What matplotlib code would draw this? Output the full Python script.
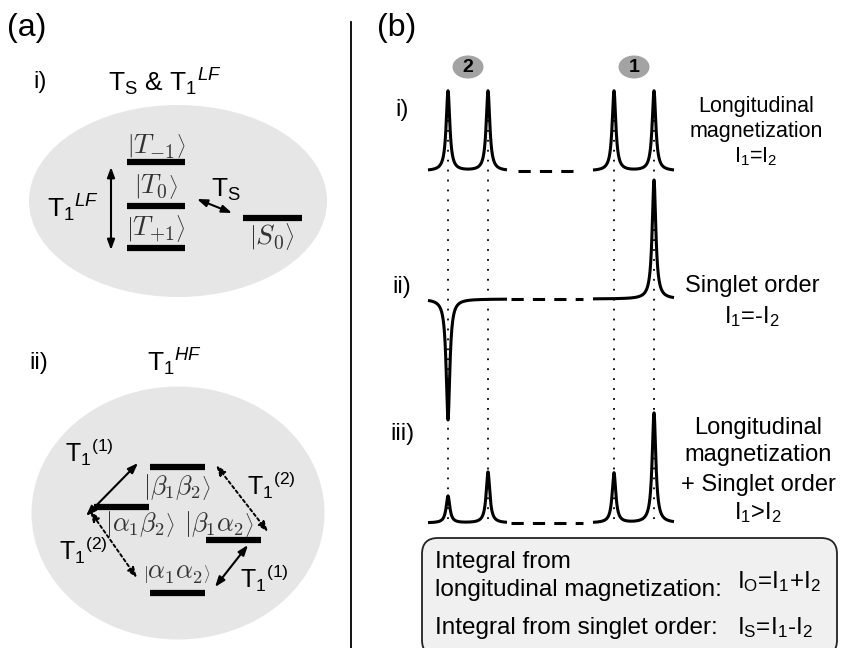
import numpy as np
import matplotlib.pyplot as plt
from matplotlib.patches import Ellipse, FancyBboxPatch

plt.rcParams['font.family'] = ['Liberation Sans', 'DejaVu Sans']
plt.rcParams['mathtext.fontset'] = 'custom'
plt.rcParams['mathtext.rm'] = 'Liberation Sans'
plt.rcParams['mathtext.it'] = 'Liberation Sans:italic'
plt.rcParams['mathtext.bf'] = 'Liberation Sans:bold'

# spectra: peak positions and amplitudes (pixel units of the sketch)
peak_pos = [448, 488, 614, 654]
baselines = [171, 299, 523]
amp_i = [80, 80, 80, 80]
amp_ii = [-121, 0, 0, 119]
amp_iii = [27, 51, 50, 110]
amps = [amp_i, amp_ii, amp_iii]
seg_left = (428, 507)
seg_right = (593, 674)
dash_seg = [(518, 578), (511, 583), (511, 583)]
row_labels = ['i)', 'ii)', 'iii)']
row_label_y = [110, 287, 434]
gamma = 2.2

# row descriptions: (text, y baseline, fontsize)
row_text = [
    [('Longitudinal', 112, 15.5), ('magnetization', 137, 15.5), (r'I$_1$=I$_2$', 162, 15.5)],
    [('Singlet order', 292, 17), (r'I$_1$=-I$_2$', 323, 17)],
    [('Longitudinal', 434, 17), ('magnetization', 461, 17),
     ('+ Singlet order', 491, 17), (r'I$_1$>I$_2$', 519, 17)],
]
row_text_x = [756, 752, 758]

# energy levels panel (a) i
levels_i = {'T-1': (127, 185, 162), 'T0': (127, 185, 206),
            'T+1': (127, 185, 248), 'S0': (243, 302, 218)}
kets_i = [(r'$\left|T_{-1}\right\rangle$', 156, 146), (r'$\left|T_0\right\rangle$', 156, 187),
          (r'$\left|T_{+1}\right\rangle$', 156, 229), (r'$\left|S_0\right\rangle$', 272, 237)]

# energy levels panel (a) ii
levels_ii = {'bb': (150, 205, 467), 'ab': (94, 149, 507),
             'ba': (206, 261, 540), 'aa': (150, 205, 593)}
kets_ii = [(r'$\left|\beta_1\beta_2\right\rangle$', 177, 487),
           (r'$\left|\alpha_1\beta_2\right\rangle$', 140, 524),
           (r'$\left|\beta_1\alpha_2\right\rangle$', 219, 524),
           (r'$\left|\alpha_1\alpha_2\right\rangle$', 177, 573)]


def lorentz(x, x0, a):
    return a * gamma**2 / ((x - x0)**2 + gamma**2)


fig = plt.figure(figsize=(8.42, 6.48), dpi=100)
ax = fig.add_axes([0, 0, 1, 1])
ax.set_xlim(0, 842)
ax.set_ylim(648, 0)
ax.axis('off')

# ---------------- panel (b) ----------------
ax.plot([351, 351], [22, 648], color='black', lw=1.3)
ax.text(377, 28, '(b)', fontsize=23, va='center', ha='left')
ax.text(7, 28, '(a)', fontsize=23, va='center', ha='left')

for x in peak_pos:
    ax.plot([x, x], [120, 523], color='black', lw=1.3, ls=(0, (1, 4.5)))

for base, amp, dseg in zip(baselines, amps, dash_seg):
    for lo, hi, idx in [(seg_left[0], seg_left[1], [0, 1]),
                        (seg_right[0], seg_right[1], [2, 3])]:
        xs = np.linspace(lo, hi, 3000)
        ys = np.full_like(xs, float(base))
        for k in idx:
            ys -= lorentz(xs, peak_pos[k], amp[k])
        ax.plot(xs, ys, color='black', lw=2.2, solid_capstyle='butt')
    ax.plot(dseg, [base, base], color='black', lw=2.2, ls=(0, (4, 3)))

for lab, y in zip(row_labels, row_label_y):
    ax.text(402, y, lab, fontsize=17, ha='center', va='center')

for lines, xc in zip(row_text, row_text_x):
    for txt, yb, fs in lines:
        ax.text(xc, yb, txt, fontsize=fs, ha='center', va='baseline')

for num, xc in [('2', 468), ('1', 634)]:
    ax.add_patch(Ellipse((xc, 67), 31, 23, fc='#a3a3a3', ec='none'))
    ax.text(xc, 68, num, fontsize=14, fontweight='bold', ha='center', va='center')

box = FancyBboxPatch((422, 538), 415, 118, boxstyle='round,pad=0,rounding_size=16',
                     fc='#f0f0f0', ec='#222222', lw=1.3)
ax.add_patch(box)
ax.text(435, 568, 'Integral from', fontsize=17.5, va='baseline')
ax.text(435, 596, 'longitudinal magnetization:', fontsize=17.5, va='baseline')
ax.text(435, 634, 'Integral from singlet order:', fontsize=17.5, va='baseline')
ax.text(737, 588, r'I$_\mathrm{O}$=I$_1$+I$_2$', fontsize=17.5, va='baseline')
ax.text(737, 634, r'I$_\mathrm{S}$=I$_1$-I$_2$', fontsize=17.5, va='baseline')

# ---------------- panel (a) i ----------------
ax.text(40, 82, 'i)', fontsize=17, ha='center', va='center')
ax.text(108, 82, r'T$_\mathrm{S}$ & T$_1$$^{LF}$', fontsize=19, ha='left', va='center')
ax.add_patch(Ellipse((178, 201), 298, 192, fc='#e6e6e6', ec='none'))
for lo, hi, y in levels_i.values():
    ax.plot([lo, hi], [y, y], color='black', lw=4.5, solid_capstyle='butt')
for txt, x, y in kets_i:
    ax.text(x, y, txt, fontsize=20, ha='center', va='center', color='#333333',
            math_fontfamily='cm')

arrow_solid = dict(arrowstyle='<|-|>,head_length=0.6,head_width=0.22', lw=1.5,
                   color='black', shrinkA=0, shrinkB=0)
ax.annotate('', xy=(111, 167), xytext=(111, 250), arrowprops=arrow_solid)
ax.annotate('', xy=(197, 199), xytext=(232, 213), arrowprops=arrow_solid)
ax.text(73, 208, r'T$_1$$^{LF}$', fontsize=19, ha='center', va='center')
ax.text(226, 190, r'T$_\mathrm{S}$', fontsize=19, ha='center', va='center')

# ---------------- panel (a) ii ----------------
ax.text(39, 363, 'ii)', fontsize=17, ha='center', va='center')
ax.text(147, 362, r'T$_1$$^{HF}$', fontsize=19, ha='left', va='center')
ax.add_patch(Ellipse((178, 513), 293, 253, fc='#e6e6e6', ec='none'))
for lo, hi, y in levels_ii.values():
    ax.plot([lo, hi], [y, y], color='black', lw=4.5, solid_capstyle='butt')
for txt, x, y in kets_ii:
    ax.text(x, y, txt, fontsize=19, ha='center', va='center', color='#333333',
            math_fontfamily='cm')

arrow_dot = dict(arrow_solid, lw=1.4, ls=(0, (1.5, 1.5)))
ax.annotate('', xy=(138, 463), xytext=(86, 516), arrowprops=arrow_solid)
ax.annotate('', xy=(248, 545), xytext=(215, 587), arrowprops=arrow_solid)
ax.annotate('', xy=(216, 465), xytext=(268, 532), arrowprops=arrow_dot)
ax.annotate('', xy=(90, 511), xytext=(137, 578), arrowprops=arrow_dot)

ax.text(89, 452, r'T$_1$$^{(1)}$', fontsize=18, ha='center', va='center')
ax.text(271, 485, r'T$_1$$^{(2)}$', fontsize=18, ha='center', va='center')
ax.text(83, 550, r'T$_1$$^{(2)}$', fontsize=18, ha='center', va='center')
ax.text(264, 578, r'T$_1$$^{(1)}$', fontsize=18, ha='center', va='center')

fig.savefig('out.png', dpi=100)
